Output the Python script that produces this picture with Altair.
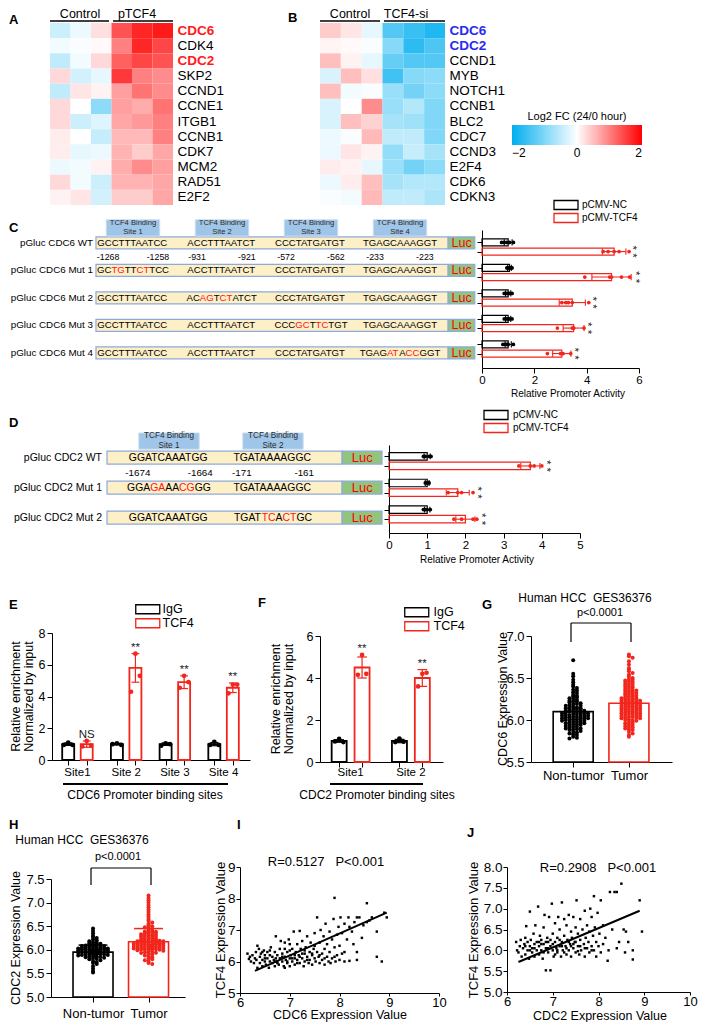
import altair as alt
import pandas as pd

FONT = "Liberation Sans"
W, H = 693, 1014
RED = "#f2261c"
MUT = "#ff1414"
HEAT_BLUE = "#00aeef"
HEAT_RED = "#ff0000"
YELLOW = "#fdefc6"
EDGE = "#8eaadb"
BIND = "#9fc5e8"
BIND_EDGE = "#c9ddf0"
LUC = "#93c47d"

# ======================= DATA =======================
genes_A = ["CDC6", "CDK4", "CDC2", "SKP2", "CCND1", "CCNE1", "ITGB1", "CCNB1", "CDK7", "MCM2", "RAD51", "E2F2"]
heat_A = [
    [-0.40, -0.15, 0.25, 1.35, 1.70, 1.80],
    [-0.10, -0.05, 0.05, 1.00, 1.70, 1.45],
    [-0.50, -0.10, 0.30, 1.25, 1.45, 1.35],
    [0.30, -0.35, -0.20, 1.55, 1.00, 0.90],
    [-0.50, 0.20, 0.10, 0.75, 1.10, 0.90],
    [0.30, 0.00, -0.90, 0.75, 0.65, 1.10],
    [0.30, -0.40, -0.25, 0.70, 0.80, 1.00],
    [0.15, 0.00, -0.45, 0.55, 0.55, 1.00],
    [0.15, -0.20, -0.15, 0.60, 0.40, 0.70],
    [-0.15, -0.10, 0.10, 0.65, 0.90, 0.75],
    [0.30, -0.10, -0.40, 0.60, 0.60, 0.70],
    [0.10, 0.20, -0.35, 0.40, 0.40, 0.70],
]
genes_B = ["CDC6", "CDC2", "CCND1", "MYB", "NOTCH1", "CCNB1", "BLC2", "CDC7", "CCND3", "E2F4", "CDK6", "CDKN3"]
heat_B = [
    [0.40, 0.20, -0.20, -1.35, -1.55, -1.75],
    [0.08, 0.05, -0.05, -0.95, -1.65, -1.40],
    [0.50, 0.10, -0.20, -1.20, -1.35, -1.35],
    [-0.30, 0.50, 0.25, -1.50, -0.95, -0.90],
    [0.50, -0.10, -0.05, -0.80, -1.10, -0.90],
    [-0.30, 0.00, 0.90, -0.80, -0.60, -1.00],
    [-0.30, 0.50, 0.35, -0.70, -0.75, -1.00],
    [-0.15, -0.05, 0.55, -0.50, -0.50, -1.00],
    [-0.15, 0.20, 0.10, -0.85, -0.45, -0.70],
    [0.15, 0.10, -0.20, -0.80, -1.10, -0.90],
    [-0.15, 0.15, 0.50, -0.70, -0.60, -0.60],
    [-0.05, -0.10, 0.55, -0.50, -0.50, -0.65],
]

# ---- C ----
labels_C = ["pGluc CDC6 WT", "pGluc CDC6 Mut 1", "pGluc CDC6 Mut 2", "pGluc CDC6 Mut 3", "pGluc CDC6 Mut 4"]
seqs_C = [  # lower case = mutated base (drawn red)
    ["GCCTTTAATCC", "ACCTTTAATCT", "CCCTATGATGT", "TGAGCAAAGGT"],
    ["GCtgTTctTCC", "ACCTTTAATCT", "CCCTATGATGT", "TGAGCAAAGGT"],
    ["GCCTTTAATCC", "ACagTctATCT", "CCCTATGATGT", "TGAGCAAAGGT"],
    ["GCCTTTAATCC", "ACCTTTAATCT", "CCCgcTtcTGT", "TGAGCAAAGGT"],
    ["GCCTTTAATCC", "ACCTTTAATCT", "CCCTATGATGT", "TGAGatAccGGT"],
]
sites_C = ["Site 1", "Site 2", "Site 3", "Site 4"]
coords_C = [("-1268", "-1258"), ("-931", "-921"), ("-572", "-562"), ("-233", "-223")]
legend_CD = ["pCMV-NC", "pCMV-TCF4"]
nc_mean_C = [1.0, 1.05, 1.0, 1.0, 1.0]
nc_sd_C = [0.15, 0.07, 0.10, 0.10, 0.12]
nc_pts_C = [[0.75, 0.85, 0.95, 1.05, 1.2], [0.95, 1.0, 1.05, 1.1, 1.15], [0.85, 0.95, 1.0, 1.05, 1.15],
            [0.85, 0.95, 1.0, 1.05, 1.15], [0.8, 0.9, 0.95, 1.0, 1.2]]
tc_mean_C = [5.05, 4.95, 3.45, 3.5, 3.05]
tc_sd_C = [0.45, 0.75, 0.5, 0.4, 0.35]
tc_pts_C = [[4.63, 4.82, 5.05, 5.24, 5.62], [3.93, 4.88, 4.95, 5.33, 5.64], [3.05, 3.2, 3.3, 3.45, 4.08],
            [2.88, 3.45, 3.5, 3.5, 3.9], [2.5, 3.0, 3.05, 3.1, 3.39]]

# ---- D ----
labels_D = ["pGluc CDC2 WT", "pGluc CDC2 Mut 1", "pGluc CDC2 Mut 2"]
seqs_D = [["GGATCAAATGG", "TGATAAAAGGC"], ["GGAgaAAcgGG", "TGATAAAAGGC"], ["GGATCAAATGG", "TGATtcActGC"]]
sites_D = ["Site 1", "Site 2"]
coords_D = [("-1674", "-1664"), ("-171", "-161")]
nc_mean_D = [1.0, 1.0, 1.0]
nc_sd_D = [0.08, 0.05, 0.07]
nc_pts_D = [[0.9, 0.95, 1.05, 1.1], [0.95, 1.0, 1.05], [0.9, 0.95, 1.0, 1.08]]
tc_mean_D = [3.7, 1.8, 2.0]
tc_sd_D = [0.25, 0.3, 0.25]
tc_pts_D = [[3.4, 3.7, 3.8, 4.0], [1.55, 1.8, 1.9, 2.2], [1.7, 1.9, 2.2, 2.3]]

# ---- E ----
legend_EF = ["IgG", "TCF4"]
sites_E = ["Site1", "Site 2", "Site 3", "Site 4"]
igg_mean_E = [1.0, 1.0, 1.0, 1.0]
igg_sd_E = [0.08, 0.05, 0.08, 0.1]
igg_pts_E = [[0.95, 1.1, 0.95], [1.0, 1.05, 0.95], [0.9, 1.05, 1.0], [0.95, 1.15, 0.95]]
tcf_mean_E = [1.0, 5.8, 4.9, 4.55]
tcf_sd_E = [0.2, 0.9, 0.4, 0.3]
tcf_pts_E = [[0.85, 1.2, 0.9], [4.3, 6.7, 5.3], [4.55, 5.3, 4.9], [4.2, 4.75, 4.75]]
sig_E = ["NS", "**", "**", "**"]

# ---- F ----
sites_F = ["Site1", "Site 2"]
igg_mean_F = [1.0, 1.0]
igg_sd_F = [0.06, 0.08]
igg_pts_F = [[0.98, 1.1, 0.95], [0.95, 1.12, 0.97]]
tcf_mean_F = [4.5, 4.0]
tcf_sd_F = [0.5, 0.4]
tcf_pts_F = [[4.15, 5.1, 4.2], [3.6, 4.2, 4.25]]
sig_F = ["**", "**"]

# ---- G / H ----
groups_GH = ["Non-tumor", "Tumor"]
G_nontumor = [6.71, 6.55, 6.52, 6.48, 6.45, 6.42, 6.40, 6.38, 6.36, 6.35, 6.33, 6.32, 6.30, 6.29, 6.28, 6.27, 6.26,
              6.25, 6.24, 6.23, 6.22, 6.22, 6.21, 6.20, 6.19, 6.19, 6.18, 6.17, 6.17, 6.16, 6.15, 6.15, 6.14, 6.14,
              6.13, 6.13, 6.12, 6.12, 6.11, 6.11, 6.10, 6.10, 6.10, 6.09, 6.09, 6.08, 6.08, 6.08, 6.07, 6.07, 6.06,
              6.06, 6.06, 6.05, 6.05, 6.05, 6.04, 6.04, 6.03, 6.03, 6.03, 6.02, 6.02, 6.02, 6.01, 6.01, 6.00, 6.00,
              6.00, 5.99, 5.99, 5.98, 5.98, 5.97, 5.97, 5.96, 5.96, 5.95, 5.95, 5.94, 5.94, 5.93, 5.92, 5.92, 5.91,
              5.90, 5.90, 5.89, 5.89, 5.88, 5.87, 5.86, 5.85, 5.84, 5.83, 5.82, 5.80, 5.79, 5.78]
G_tumor = [6.78, 6.76, 6.74, 6.70, 6.66, 6.62, 6.60, 6.58, 6.56, 6.54, 6.52, 6.50, 6.49, 6.48, 6.47, 6.46, 6.45, 6.44,
           6.43, 6.42, 6.41, 6.40, 6.39, 6.38, 6.37, 6.36, 6.35, 6.35, 6.34, 6.33, 6.32, 6.32, 6.31, 6.30, 6.30, 6.29,
           6.28, 6.28, 6.27, 6.26, 6.26, 6.25, 6.25, 6.24, 6.24, 6.23, 6.23, 6.22, 6.22, 6.21, 6.21, 6.20, 6.20, 6.19,
           6.19, 6.18, 6.18, 6.17, 6.17, 6.16, 6.16, 6.15, 6.15, 6.14, 6.14, 6.13, 6.13, 6.12, 6.12, 6.11, 6.11, 6.10,
           6.10, 6.09, 6.09, 6.08, 6.08, 6.07, 6.07, 6.06, 6.06, 6.05, 6.05, 6.04, 6.04, 6.03, 6.03, 6.02, 6.02, 6.01,
           6.00, 6.00, 5.99, 5.98, 5.97, 5.96, 5.95, 5.94, 5.93, 5.92, 5.91, 5.90, 5.89, 5.88, 5.86, 5.84, 5.82, 5.80]
G_mean = [6.10, 6.20]
H_nontumor = [6.45, 6.40, 6.35, 6.30, 6.27, 6.25, 6.22, 6.20, 6.18, 6.16, 6.15, 6.14, 6.13, 6.12, 6.11, 6.10, 6.10,
              6.09, 6.08, 6.08, 6.07, 6.06, 6.06, 6.05, 6.05, 6.04, 6.04, 6.03, 6.03, 6.02, 6.02, 6.01, 6.01, 6.00,
              6.00, 6.00, 5.99, 5.99, 5.98, 5.98, 5.98, 5.97, 5.97, 5.96, 5.96, 5.96, 5.95, 5.95, 5.95, 5.94, 5.94,
              5.93, 5.93, 5.92, 5.92, 5.91, 5.91, 5.90, 5.90, 5.89, 5.89, 5.88, 5.88, 5.87, 5.86, 5.86, 5.85, 5.84,
              5.83, 5.82, 5.81, 5.80, 5.78, 5.76, 5.74, 5.72, 5.70, 5.65, 5.60, 5.55, 5.52]
H_tumor = [7.15, 7.10, 7.05, 7.00, 6.95, 6.90, 6.85, 6.80, 6.75, 6.70, 6.65, 6.62, 6.58, 6.55, 6.52, 6.50, 6.48, 6.46,
           6.44, 6.42, 6.40, 6.39, 6.38, 6.37, 6.36, 6.35, 6.34, 6.33, 6.32, 6.31, 6.30, 6.29, 6.28, 6.27, 6.26, 6.25,
           6.24, 6.23, 6.22, 6.22, 6.21, 6.20, 6.20, 6.19, 6.18, 6.18, 6.17, 6.16, 6.16, 6.15, 6.15, 6.14, 6.14, 6.13,
           6.13, 6.12, 6.12, 6.11, 6.11, 6.10, 6.10, 6.09, 6.09, 6.08, 6.08, 6.07, 6.07, 6.06, 6.06, 6.05, 6.05, 6.04,
           6.04, 6.03, 6.03, 6.02, 6.02, 6.01, 6.01, 6.00, 6.00, 5.99, 5.98, 5.97, 5.96, 5.95, 5.94, 5.93, 5.92, 5.90,
           5.88, 5.86, 5.84, 5.82, 5.80, 5.78, 5.75, 5.72, 5.70]
H_mean = [5.95, 6.17]
H_sd = [0.15, 0.28]

# ---- I / J ----
scatter_I = [
    (6.15, 6.25), (6.18, 6.08), (6.2, 6.15), (6.22, 6.0), (6.25, 6.2), (6.28, 5.95), (6.3, 6.1), (6.32, 6.3),
    (6.33, 6.05), (6.35, 5.8), (6.35, 6.5), (6.38, 6.4), (6.4, 5.95), (6.4, 6.15), (6.42, 6.25), (6.45, 6.05),
    (6.45, 5.85), (6.48, 6.35), (6.5, 6.0), (6.5, 6.2), (6.52, 5.9), (6.55, 6.1), (6.55, 6.3), (6.58, 5.8),
    (6.6, 6.0), (6.6, 6.2), (6.62, 6.45), (6.65, 5.95), (6.65, 6.15), (6.68, 6.05), (6.7, 5.85), (6.7, 6.3),
    (6.72, 6.1), (6.72, 6.8), (6.75, 6.0), (6.75, 6.2), (6.78, 5.9), (6.8, 6.1), (6.8, 6.4), (6.82, 6.65),
    (6.85, 6.0), (6.85, 6.25), (6.88, 5.85), (6.9, 6.15), (6.9, 6.6), (6.92, 6.05), (6.95, 6.3), (6.95, 5.95),
    (6.98, 6.7), (7.0, 6.1), (7.0, 5.85), (7.02, 6.2), (7.05, 6.0), (7.05, 6.4), (7.08, 6.95), (7.1, 6.1),
    (7.1, 5.9), (7.12, 6.3), (7.15, 6.05), (7.15, 6.55), (7.18, 6.2), (7.2, 5.95), (7.2, 6.97), (7.22, 6.4),
    (7.25, 6.1), (7.25, 6.65), (7.28, 5.85), (7.3, 6.25), (7.3, 6.0), (7.32, 6.45), (7.35, 6.15), (7.35, 6.8),
    (7.38, 5.95), (7.4, 6.3), (7.4, 6.05), (7.42, 6.6), (7.45, 6.2), (7.45, 5.9), (7.48, 6.4), (7.5, 6.1),
    (7.5, 6.9), (7.52, 6.0), (7.55, 6.3), (7.55, 7.4), (7.58, 6.15), (7.6, 6.6), (7.6, 5.95), (7.62, 7.0),
    (7.65, 6.25), (7.65, 6.05), (7.68, 6.8), (7.7, 6.4), (7.7, 5.9), (7.72, 7.2), (7.75, 6.15), (7.75, 6.55),
    (7.78, 6.0), (7.8, 6.95), (7.8, 6.3), (7.82, 5.95), (7.85, 6.7), (7.85, 6.1), (7.88, 7.35), (7.9, 8.02),
    (7.9, 6.45), (7.92, 6.0), (7.95, 6.85), (7.95, 6.2), (7.98, 7.1), (8.0, 6.5), (8.02, 7.4), (8.05, 6.9),
    (8.05, 6.25), (8.1, 7.2), (8.1, 6.0), (8.15, 6.7), (8.18, 7.4), (8.2, 7.1), (8.2, 6.02), (8.25, 6.95),
    (8.28, 6.55), (8.3, 7.25), (8.35, 7.4), (8.35, 6.3), (8.35, 6.05), (8.4, 7.4), (8.45, 6.75), (8.48, 7.15),
    (8.55, 7.85), (8.55, 7.25), (8.6, 7.3), (8.65, 7.4), (8.75, 6.95), (8.75, 6.15), (8.85, 6.0), (8.9, 7.55),
    (8.95, 7.4), (6.6, 6.35), (6.7, 6.0), (6.9, 5.8), (7.0, 6.35), (7.1, 6.2), (7.2, 6.15), (7.3, 6.35),
    (7.45, 6.25), (6.85, 6.15), (6.95, 6.0), (7.05, 6.1), (7.15, 5.95), (7.25, 6.25), (7.35, 6.05), (6.5, 6.1),
    (6.45, 6.3), (6.75, 5.95), (7.6, 6.2), (7.7, 6.1), (7.9, 6.15), (8.0, 6.05), (8.1, 6.3), (7.5, 6.5),
    (7.0, 6.55), (6.9, 6.4),
]
line_I = [(6.3, 5.7), (8.95, 7.55)]
scatter_J = [
    (6.2, 6.2), (6.22, 6.0), (6.25, 5.95), (6.28, 6.1), (6.3, 6.25), (6.32, 5.85), (6.35, 6.05), (6.38, 6.15),
    (6.4, 5.9), (6.4, 6.3), (6.42, 6.58), (6.45, 6.0), (6.45, 6.2), (6.48, 5.8), (6.5, 6.1), (6.5, 6.93),
    (6.52, 6.25), (6.55, 5.95), (6.55, 6.05), (6.58, 6.4), (6.6, 6.15), (6.6, 5.85), (6.62, 6.6), (6.65, 6.0),
    (6.65, 6.2), (6.68, 7.05), (6.7, 5.9), (6.7, 6.1), (6.72, 6.35), (6.75, 6.0), (6.75, 6.25), (6.78, 5.8),
    (6.8, 6.15), (6.8, 6.55), (6.82, 6.85), (6.85, 6.05), (6.85, 5.52), (6.88, 6.3), (6.9, 5.95), (6.9, 6.2),
    (6.92, 6.8), (6.95, 5.52), (6.95, 6.1), (6.98, 7.12), (7.0, 6.0), (7.0, 6.4), (7.02, 5.85), (7.05, 6.2),
    (7.05, 6.65), (7.08, 6.05), (7.1, 5.95), (7.1, 6.3), (7.12, 6.8), (7.15, 6.1), (7.15, 6.5), (7.18, 5.85),
    (7.2, 6.2), (7.2, 7.15), (7.22, 6.0), (7.25, 6.35), (7.25, 6.75), (7.28, 6.1), (7.3, 5.9), (7.3, 6.6),
    (7.32, 6.25), (7.35, 6.0), (7.35, 6.85), (7.38, 6.15), (7.4, 6.45), (7.4, 5.85), (7.42, 6.3), (7.45, 6.05),
    (7.45, 6.8), (7.48, 6.2), (7.5, 6.55), (7.5, 5.95), (7.52, 7.2), (7.55, 6.1), (7.55, 6.4), (7.58, 5.9),
    (7.6, 6.25), (7.6, 6.75), (7.62, 6.0), (7.65, 6.5), (7.68, 6.15), (7.7, 5.85), (7.7, 6.95), (7.72, 6.3),
    (7.75, 6.05), (7.75, 6.6), (7.78, 6.2), (7.8, 5.95), (7.8, 6.45), (7.82, 7.0), (7.85, 6.1), (7.85, 6.8),
    (7.88, 6.35), (7.9, 7.3), (7.9, 6.0), (7.92, 6.55), (7.95, 6.2), (7.95, 5.85), (7.98, 6.9), (8.0, 6.1),
    (8.02, 6.4), (8.05, 7.2), (8.05, 5.95), (8.1, 6.6), (8.1, 6.15), (8.15, 6.3), (8.2, 5.75), (8.22, 6.0),
    (8.25, 7.4), (8.3, 6.5), (8.35, 7.4), (8.4, 7.4), (8.4, 6.05), (8.45, 6.2), (8.5, 7.6), (8.55, 6.5),
    (8.58, 5.95), (8.6, 6.45), (8.65, 6.2), (8.75, 6.0), (8.75, 5.78), (8.9, 7.2), (8.95, 6.45), (6.6, 6.05),
    (6.7, 6.2), (6.8, 5.95), (6.9, 6.05), (7.0, 6.15), (7.1, 6.0), (7.2, 6.1), (7.3, 6.05), (7.4, 6.1),
    (7.5, 6.2), (6.95, 6.25), (7.05, 5.9), (7.15, 6.25), (7.25, 5.95), (7.35, 6.2), (6.75, 6.15), (6.85, 6.2),
    (7.6, 6.1), (7.7, 6.05), (7.85, 6.0), (6.5, 6.0), (6.4, 6.1), (7.45, 6.15), (7.55, 5.98),
]
line_J = [(6.25, 5.72), (8.9, 6.95)]


# ======================= HELPERS =======================
def PX(v):
    return v - 8


def PY(v):
    return v - 8


def qs(d0, d1, r0, r1):
    return alt.Scale(domain=[d0, d1], range=[r0, r1], nice=False, zero=False)


def ax(orient, pos, **kw):
    d = dict(orient=orient, grid=False, domainColor="black", tickColor="black", labelColor="black",
             labelFont=FONT, labelFontSize=12, tickSize=5, labelPadding=2, title=None,
             labelFlush=False, labelOverlap=False, domainWidth=1, tickWidth=1)
    if orient == "bottom":
        d["offset"] = PY(pos) - H
    else:
        d["offset"] = -PX(pos)
    d.update(kw)
    return alt.Axis(**d)


def one():
    return pd.DataFrame({"t": [""]})


def note(text, x, y, size=12, weight="normal", align="center", baseline="middle", color="black",
         angle=None, lh=None):
    kw = dict(font=FONT, fontSize=size, fontWeight=weight, align=align, baseline=baseline, color=color)
    if angle is not None:
        kw["angle"] = angle
    if "\n" in text:
        kw["lineBreak"] = "\n"
        if lh:
            kw["lineHeight"] = lh
    return alt.Chart(pd.DataFrame({"t": [text]})).mark_text(**kw).encode(
        x=alt.value(PX(x)), y=alt.value(PY(y)), text="t:N")


def seg(x0, y0, x1, y1, w=1.0, color="black"):
    return alt.Chart(one()).mark_rule(strokeWidth=w, color=color).encode(
        x=alt.value(PX(x0)), x2=alt.value(PX(x1)), y=alt.value(PY(y0)), y2=alt.value(PY(y1)))


def box_legend(x, y, fs, lab_off, row_pad, names, shown):
    expr = "datum.label == '%s' ? '%s' : '%s'" % (names[0], shown[0], shown[1])
    return alt.Legend(orient="none", legendX=PX(x), legendY=PY(y), title=None,
                      symbolType="M-2.667,-1H2.667V1H-2.667Z", symbolSize=81, symbolFillColor="white",
                      symbolStrokeWidth=1.3, labelFont=FONT, labelFontSize=fs, labelOffset=lab_off,
                      rowPadding=row_pad, padding=0, labelColor="black", labelExpr=expr)


def two_tone(names):
    return alt.condition("datum.g == '%s'" % names[1], alt.value(RED), alt.value("black"))


CW = {"A": 0.667, "C": 0.722, "G": 0.778, "T": 0.611}


def segments(seq, center, fs, ppu):
    out, pos, i = [], 0.0, 0
    while i < len(seq):
        j = i
        while j < len(seq) and seq[j].islower() == seq[i].islower():
            j += 1
        part = seq[i:j]
        out.append({"t": part.upper(), "mut": seq[i].islower(), "off": pos})
        pos += sum(CW[c.upper()] for c in part) * fs
        i = j
    for o in out:
        o["x"] = center + (o["off"] - pos / 2) / ppu
    return out


def swarm_offsets(vals, bin_w, step, maxoff):
    nmax = int(maxoff / step + 1e-9)
    pattern = [0.0]
    for i in range(1, nmax + 1):
        pattern += [i * step, -i * step]
    for i in range(1, nmax + 1):
        pattern += [(i - 0.5) * step, -(i - 0.5) * step]
    counts, out = {}, []
    for v in vals:
        b = round(v / bin_w)
        k = counts.get(b, 0)
        counts[b] = k + 1
        out.append(pattern[k % len(pattern)])
    return out


# ======================= PANELS =======================
def heatmap(genes, vals, left, right, highlight, hl_color, legend):
    recs = []
    for gi, g in enumerate(genes):
        for ci, v in enumerate(vals[gi]):
            recs.append({"gene": g, "c0": ci, "c1": ci + 1, "v": v})
    test = " || ".join("datum.value == '%s'" % h for h in highlight)
    yax = alt.Axis(orient="right", offset=PX(right) - W, domain=False, ticks=False, grid=False,
                   labelPadding=4, labelFont=FONT, labelFontSize=13.5, title=None,
                   labelColor={"condition": {"test": test, "value": hl_color}, "value": "black"},
                   labelFontWeight={"condition": {"test": test, "value": "bold"}, "value": "normal"})
    return alt.Chart(pd.DataFrame(recs)).mark_rect().encode(
        x=alt.X("c0:Q", scale=qs(0, 6, PX(left), PX(right)), axis=None),
        x2="c1:Q",
        y=alt.Y("gene:N", sort=None,
                scale=alt.Scale(domain=genes, range=[PY(23), PY(205)], paddingInner=0, paddingOuter=0),
                axis=yax),
        color=alt.Color("v:Q", scale=alt.Scale(domain=[-2, 0, 2], range=[HEAT_BLUE, "#ffffff", HEAT_RED],
                                               interpolate="rgb"), legend=legend),
    )


def diagram(labels, seqs, sites, coords, xs, ys, L):
    n, ns = len(labels), len(sites)
    X = lambda f: alt.X(f, scale=xs, axis=None)
    Y = lambda f: alt.Y(f, scale=ys, axis=None)
    bx = pd.DataFrame([{"x0": L["box"][0], "x1": L["box"][1], "y0": r - L["bh"], "y1": r + L["bh"]}
                       for r in range(n)])
    lc = pd.DataFrame([{"x0": L["luc"][0], "x1": L["luc"][1], "y0": r - L["bh"], "y1": r + L["bh"],
                        "xm": (L["luc"][0] + L["luc"][1]) / 2, "y": r} for r in range(n)])
    bd = pd.DataFrame([{"x0": s + 1 - L["bw"], "x1": s + 1 + L["bw"], "y0": L["by"][0], "y1": L["by"][1],
                        "xm": s + 1, "ym": (L["by"][0] + L["by"][1]) / 2, "t": "TCF4 Binding\n" + sites[s]}
                       for s in range(ns)])
    lb = pd.DataFrame([{"x": L["lab_x"], "y": r, "t": labels[r]} for r in range(n)])
    cd = []
    for s, (a, b) in enumerate(coords):
        cd.append({"x": s + 1 - L["cd"], "y": L["cy"], "t": a})
        cd.append({"x": s + 1 + L["cd"], "y": L["cy"], "t": b})
    sq = []
    for r in range(n):
        for s in range(ns):
            for sgm in segments(seqs[r][s], s + 1, L["fs"], L["ppu"]):
                sgm["y"] = r
                sq.append(sgm)
    lh = L["bind_fs"] + 1.5
    return alt.layer(
        alt.Chart(bx).mark_rect(fill=YELLOW, stroke=EDGE, strokeWidth=1.2).encode(
            x=X("x0:Q"), x2="x1:Q", y=Y("y0:Q"), y2="y1:Q"),
        alt.Chart(lc).mark_rect(fill=LUC, stroke=EDGE, strokeWidth=1.2).encode(
            x=X("x0:Q"), x2="x1:Q", y=Y("y0:Q"), y2="y1:Q"),
        alt.Chart(lc).mark_text(font=FONT, fontSize=L["luc_fs"], color="#ff0000").encode(
            x=X("xm:Q"), y=Y("y:Q"), text=alt.value("Luc")),
        alt.Chart(bd).mark_rect(fill=BIND, stroke=BIND_EDGE, strokeWidth=1).encode(
            x=X("x0:Q"), x2="x1:Q", y=Y("y0:Q"), y2="y1:Q"),
        alt.Chart(bd).mark_text(font=FONT, fontSize=L["bind_fs"], color="#2a2a2a", lineBreak="\n",
                                lineHeight=lh, dy=-lh / 2).encode(
            x=X("xm:Q"), y=Y("ym:Q"), text="t:N"),
        alt.Chart(lb).mark_text(font=FONT, fontSize=L["lab_fs"], align="right", color="black").encode(
            x=X("x:Q"), y=Y("y:Q"), text="t:N"),
        alt.Chart(pd.DataFrame(cd)).mark_text(font=FONT, fontSize=L["cd_fs"], color="black").encode(
            x=X("x:Q"), y=Y("y:Q"), text="t:N"),
        alt.Chart(pd.DataFrame(sq)).mark_text(font=FONT, fontSize=L["fs"], align="left").encode(
            x=X("x:Q"), y=Y("y:Q"), text="t:N",
            color=alt.condition("datum.mut", alt.value(MUT), alt.value("black"))),
    )


def hbars(names, groups, xs, ys, xaxis, y_axis_x, off, thick, legend, cap, star_gap):
    nrow = len(groups[0][0])
    B, P, E, Cp, S, ticks = [], [], [], [], [], []
    for r in range(nrow):
        for gi, (means, sds, pts) in enumerate(groups):
            yp = r + (off if gi else -off)
            g = names[gi]
            ticks.append(yp)
            m, s = means[r], sds[r]
            B.append({"y": yp, "v": m, "z": 0.0, "g": g})
            P += [{"y": yp, "v": p, "g": g} for p in pts[r]]
            E.append({"y": yp, "lo": m - s, "hi": m + s, "g": g})
            Cp += [{"x": e, "y0": yp - cap, "y1": yp + cap, "g": g} for e in (m - s, m + s)]
        m, s, pts = groups[1][0][r], groups[1][1][r], groups[1][2][r]
        S.append({"x": max(m + s, max(pts)) + star_gap, "y": r + off, "t": "* *"})
    sc = alt.Scale(domain=names, range=["black", RED])
    yaxis = ax("left", y_axis_x, values=ticks, labels=False, tickSize=5)
    XA = lambda f: alt.X(f, scale=xs, axis=xaxis)
    YA = lambda f: alt.Y(f, scale=ys, axis=yaxis)
    return alt.layer(
        alt.Chart(pd.DataFrame(B)).mark_bar(orient="horizontal", size=thick, filled=False, strokeWidth=1.2).encode(
            x=XA("v:Q"), x2="z:Q", y=YA("y:Q"),
            stroke=alt.Stroke("g:N", scale=sc, legend=legend)),
        alt.Chart(pd.DataFrame(E)).mark_rule(strokeWidth=1.1).encode(
            x=XA("lo:Q"), x2="hi:Q", y=YA("y:Q"),
            stroke=alt.Stroke("g:N", scale=sc, legend=None)),
        alt.Chart(pd.DataFrame(Cp)).mark_rule(strokeWidth=1.1).encode(
            x=XA("x:Q"), y=YA("y0:Q"), y2="y1:Q",
            stroke=alt.Stroke("g:N", scale=sc, legend=None)),
        alt.Chart(pd.DataFrame(P)).mark_circle(size=14, opacity=1).encode(
            x=XA("v:Q"), y=YA("y:Q"), fill=two_tone(names)),
        alt.Chart(pd.DataFrame(S)).mark_text(font=FONT, fontSize=11.5, angle=90, align="center",
                                             baseline="middle", color="#222222").encode(
            x=XA("x:Q"), y=YA("y:Q"), text="t:N"),
    )


def vbars(names, groups, sig, site_names, xs, ys, x_axis_y, yaxis, off, width, spread, legend, capw,
          psize, label_y, label_fs):
    ns = len(sig)
    B, P, E, Cp, S, ticks = [], [], [], [], [], []
    for i in range(ns):
        for gi, (means, sds, pts) in enumerate(groups):
            xp = i + 1 + (off if gi else -off)
            g = names[gi]
            ticks.append(xp)
            m, s = means[i], sds[i]
            B.append({"x": xp, "v": m, "z": 0.0, "g": g})
            k0 = (len(pts[i]) - 1) / 2
            P += [{"x": xp + (k - k0) * spread, "v": p, "g": g} for k, p in enumerate(pts[i])]
            E.append({"x": xp, "lo": m - s, "hi": m + s, "g": g})
            Cp += [{"x0": xp - capw, "x1": xp + capw, "y": e, "g": g} for e in (m - s, m + s)]
        m, s, pts = groups[1][0][i], groups[1][1][i], groups[1][2][i]
        S.append({"x": i + 1 + off, "y": max(m + s, max(pts)), "t": sig[i]})
    sc = alt.Scale(domain=names, range=["black", RED])
    xaxis = ax("bottom", x_axis_y, values=ticks, labels=False, tickSize=5)
    XA = lambda f: alt.X(f, scale=xs, axis=xaxis)
    YA = lambda f: alt.Y(f, scale=ys, axis=yaxis)
    lab = pd.DataFrame({"x": [i + 1 for i in range(ns)], "t": site_names})
    return alt.layer(
        alt.Chart(pd.DataFrame(B)).mark_bar(orient="vertical", size=width, filled=False, strokeWidth=1.8).encode(
            x=XA("x:Q"), y=YA("v:Q"), y2="z:Q",
            stroke=alt.Stroke("g:N", scale=sc, legend=legend)),
        alt.Chart(pd.DataFrame(E)).mark_rule(strokeWidth=1.2).encode(
            x=XA("x:Q"), y=YA("lo:Q"), y2="hi:Q",
            stroke=alt.Stroke("g:N", scale=sc, legend=None)),
        alt.Chart(pd.DataFrame(Cp)).mark_rule(strokeWidth=1.2).encode(
            x=XA("x0:Q"), x2="x1:Q", y=YA("y:Q"),
            stroke=alt.Stroke("g:N", scale=sc, legend=None)),
        alt.Chart(pd.DataFrame(P)).mark_circle(size=psize, opacity=1).encode(
            x=XA("x:Q"), y=YA("v:Q"), fill=two_tone(names)),
        alt.Chart(pd.DataFrame(S)).mark_text(font=FONT, fontSize=11.5, baseline="bottom", dy=-1,
                                             color="#222222").encode(
            x=XA("x:Q"), y=YA("y:Q"), text="t:N"),
        alt.Chart(lab).mark_text(font=FONT, fontSize=label_fs, color="black").encode(
            x=XA("x:Q"), y=alt.value(PY(label_y)), text="t:N"),
    )


def dots(names, vals, means, sds, xs, ys, xaxis, yaxis, bar_w, base, bin_w, step, maxoff, psize, err, capw):
    sc = alt.Scale(domain=names, range=["black", RED])
    XA = lambda f: alt.X(f, scale=xs, axis=xaxis)
    YA = lambda f: alt.Y(f, scale=ys, axis=yaxis)
    B = pd.DataFrame([{"x": i + 1, "v": means[i], "b": base, "g": names[i]} for i in range(2)])
    P = []
    for i in range(2):
        offs = swarm_offsets(vals[i], bin_w, step, maxoff)
        P += [{"x": i + 1 + o, "v": v, "g": names[i]} for v, o in zip(vals[i], offs)]
    layers = [
        alt.Chart(B).mark_bar(orient="vertical", size=bar_w, filled=False, strokeWidth=1.6).encode(
            x=XA("x:Q"), y=YA("v:Q"), y2="b:Q",
            stroke=alt.Stroke("g:N", scale=sc, legend=None)),
        alt.Chart(pd.DataFrame(P)).mark_circle(size=psize, opacity=1).encode(
            x=XA("x:Q"), y=YA("v:Q"), fill=two_tone(names)),
    ]
    if err:
        E = pd.DataFrame([{"x": i + 1, "lo": means[i], "hi": means[i] + sds[i], "g": names[i]} for i in range(2)])
        Cp = pd.DataFrame([{"x0": i + 1 - capw, "x1": i + 1 + capw, "y": means[i] + sds[i], "g": names[i]}
                           for i in range(2)])
        layers += [
            alt.Chart(E).mark_rule(strokeWidth=1.5).encode(
                x=XA("x:Q"), y=YA("lo:Q"), y2="hi:Q",
                stroke=alt.Stroke("g:N", scale=sc, legend=None)),
            alt.Chart(Cp).mark_rule(strokeWidth=1.5).encode(
                x=XA("x0:Q"), x2="x1:Q", y=YA("y:Q"),
                stroke=alt.Stroke("g:N", scale=sc, legend=None)),
        ]
    return alt.layer(*layers)


def scatter(pairs, line, xs, ys, xaxis, yaxis):
    pts = pd.DataFrame({"x": [p[0] for p in pairs], "y": [p[1] for p in pairs]})
    ln = pd.DataFrame({"x": [p[0] for p in line], "y": [p[1] for p in line]})
    return alt.layer(
        alt.Chart(pts).mark_square(size=6, color="black", opacity=1).encode(
            x=alt.X("x:Q", scale=xs, axis=xaxis), y=alt.Y("y:Q", scale=ys, axis=yaxis)),
        alt.Chart(ln).mark_line(color="black", strokeWidth=2).encode(
            x=alt.X("x:Q", scale=xs, axis=xaxis), y=alt.Y("y:Q", scale=ys, axis=yaxis)),
    )


# ======================= BUILD =======================
heat_legend = alt.Legend(orient="none", legendX=PX(512), legendY=PY(111), direction="horizontal",
                         gradientLength=130, gradientThickness=20, title="Log2 FC (24/0 hour)",
                         titleFont=FONT, titleFontSize=11, titleFontWeight="normal", titleAnchor="middle",
                         titlePadding=3, values=[-2, 0, 2], labelFont=FONT, labelFontSize=12, labelOffset=3,
                         padding=0, gradientStrokeWidth=0, titleColor="black", labelColor="black",
                         labelOverlap=False)

pA = heatmap(genes_A, heat_A, 50, 173, ["CDC6", "CDC2"], "#ff1a1a", heat_legend)
pB = heatmap(genes_B, heat_B, 320, 445, ["CDC6", "CDC2"], "#2a2af0", None)

# C
keys_C = ["C-NC", "C-TCF4"]
C_xd = qs(0, 5, PX(44), PX(489))
C_y = qs(-0.47, 4.55, PY(230), PY(368))
L_C = dict(ppu=89, fs=9.6, box=(0.584, 4.539), luc=(4.545, 4.84), bh=0.218, bw=0.30, by=(-0.84, -0.25),
           lab_x=0.55, cd=0.28, cy=0.51, lab_fs=9.8, cd_fs=8.8, bind_fs=7.6, luc_fs=12.5)
pC_diag = diagram(labels_C, seqs_C, sites_C, coords_C, C_xd, C_y, L_C)
pC_bars = hbars(keys_C, [(nc_mean_C, nc_sd_C, nc_pts_C), (tc_mean_C, tc_sd_C, tc_pts_C)],
                qs(0, 6, PX(482), PX(639)), C_y,
                ax("bottom", 368, values=[0, 2, 4, 6], labelFontSize=11.5, labelPadding=1),
                482, 0.18, 7, box_legend(560.5, 199.5, 10, 10.5, -3, keys_C, legend_CD), 0.12, 0.13)

# D
keys_D = ["D-NC", "D-TCF4"]
D_xd = qs(0, 3.2, PX(65), PX(397.8))
D_y = qs(-0.42, 2.52, PY(445), PY(533.2))
L_D = dict(ppu=104, fs=10.4, box=(0.404, 2.663), luc=(2.667, 3.048), bh=0.217, bw=0.29, by=(-0.82, -0.28),
           lab_x=0.356, cd=0.30, cy=0.51, lab_fs=10.5, cd_fs=9.8, bind_fs=8.2, luc_fs=13)
pD_diag = diagram(labels_D, seqs_D, sites_D, coords_D, D_xd, D_y, L_D)
pD_bars = hbars(keys_D, [(nc_mean_D, nc_sd_D, nc_pts_D), (tc_mean_D, tc_sd_D, tc_pts_D)],
                qs(0, 5, PX(389), PX(580)), D_y,
                ax("bottom", 533, values=[0, 1, 2, 3, 4, 5], labelFontSize=11.5, labelPadding=1),
                389, 0.18, 7.5, box_legend(490.5, 409.5, 10, 11.5, -3, keys_D, legend_CD), 0.11, 0.1)

# E
keys_E = ["E-IgG", "E-TCF4"]
pE = vbars(keys_E, [(igg_mean_E, igg_sd_E, igg_pts_E), (tcf_mean_E, tcf_sd_E, tcf_pts_E)], sig_E, sites_E,
           qs(0.58, 4.44, PX(52), PX(250)), qs(0, 8, PY(760), PY(633)), 760,
           ax("left", 52, values=[0, 2, 4, 6, 8], labelFontSize=12.5),
           0.19, 12, 0.09, box_legend(141.5, 603, 12.5, 8.5, -2.5, keys_E, legend_EF), 0.08, 22, 773, 11.5)
# F
keys_F = ["F-IgG", "F-TCF4"]
pF = vbars(keys_F, [(igg_mean_F, igg_sd_F, igg_pts_F), (tcf_mean_F, tcf_sd_F, tcf_pts_F)], sig_F, sites_F,
           qs(0.575, 2.45, PX(320), PX(443)), qs(0, 6, PY(762), PY(636)), 762,
           ax("left", 320, values=[0, 2, 4, 6], labelFontSize=12.5),
           0.19, 15, 0.07, box_legend(410.5, 606, 12.5, 10.5, -2.5, keys_F, legend_EF), 0.08, 22, 773, 11.5)

# G
pG = dots(groups_GH, [G_nontumor, G_tumor], G_mean, [0.15, 0.2],
          qs(0.333, 2.683, PX(531), PX(672)), qs(5.5, 7.0, PY(762), PY(636)),
          ax("bottom", 762, values=[1, 2], labelExpr="datum.value == 1 ? 'Non-tumor' : 'Tumor'",
             labelFontSize=13, labelPadding=2),
          ax("left", 531, values=[5.5, 6.0, 6.5, 7.0], format=".1f", labelFontSize=13),
          40, 5.5, 0.03, 0.0667, 0.3, 16, False, 0.26)
# H
pH = dots(["H-Non-tumor", "H-Tumor"], [H_nontumor, H_tumor], H_mean, H_sd,
          qs(0.333, 2.567, PX(51), PX(185)), qs(5.0, 7.5, PY(997), PY(879)),
          ax("bottom", 997, values=[1, 2], labelExpr="datum.value == 1 ? 'Non-tumor' : 'Tumor'",
             labelFontSize=13, labelPadding=5),
          ax("left", 51, values=[5.0, 5.5, 6.0, 6.5, 7.0, 7.5], format=".1f", labelFontSize=13),
          40, 5.0, 0.05, 0.0667, 0.3, 16, True, 0.26)
# I
pI = scatter(scatter_I, line_I, qs(6, 10, PX(240), PX(439)), qs(5, 9, PY(993), PY(867)),
             ax("bottom", 993, values=[6, 7, 8, 9, 10], labelFontSize=13, tickSize=3, labelPadding=0),
             ax("left", 240, values=[5, 6, 7, 8, 9], labelFontSize=13.5, tickSize=4, labelPadding=1))
# J
pJ = scatter(scatter_J, line_J, qs(6, 10, PX(507), PX(690)), qs(5.0, 8.0, PY(992), PY(867)),
             ax("bottom", 992, values=[6, 7, 8, 9, 10], labelFontSize=13, tickSize=3, labelPadding=0),
             ax("left", 507, values=[5.0, 5.5, 6.0, 6.5, 7.0, 7.5, 8.0], format=".1f", labelFontSize=13.5,
                tickSize=4, labelPadding=1))

notes = [
    note("A", 9, 20, 13, "bold", "left"),
    note("B", 288, 18, 13, "bold", "left"),
    note("C", 9, 228, 13, "bold", "left"),
    note("D", 9, 423, 13, "bold", "left"),
    note("E", 9, 605, 13, "bold", "left"),
    note("F", 258, 603, 13, "bold", "left"),
    note("G", 482, 605, 13, "bold", "left"),
    note("H", 9, 825, 13, "bold", "left"),
    note("I", 237, 825, 13, "bold", "left"),
    note("J", 467, 833, 13, "bold", "left"),
    note("Control", 80, 14, 12.5), note("pTCF4", 137, 14, 12.5),
    note("Control", 350, 14, 12.5), note("TCF4-si", 406, 14, 12.5),
    seg(50, 21, 109, 21, 1.5), seg(113, 21, 173, 21, 1.5),
    seg(320, 21, 380, 21, 1.5), seg(384, 21, 445, 21, 1.5),
    note("Relative Promoter Activity", 568, 393.5, 10),
    note("Relative Promoter Activity", 477, 560, 10),
    note("Relative enrichment\nNormalized by input", 16, 696.5, 12.5, angle=270, lh=13),
    seg(63, 784, 228, 784, 2), note("CDC6 Promoter binding sites", 145, 795, 12),
    note("Relative enrichment\nNormalized by input", 276, 699, 12.5, angle=270, lh=13),
    seg(330, 784, 423, 784, 2), note("CDC2 Promoter binding sites", 377, 795, 12),
    note("Human HCC\u00a0\u00a0GES36376", 585, 598, 12), note("p<0.0001", 600, 613, 11),
    seg(571, 623, 631, 623, 1.2), seg(571, 623, 571, 642, 1.2), seg(631, 623, 631, 642, 1.2),
    note("CDC6 Expression Value", 503, 699, 12.5, angle=270),
    note("Human HCC\u00a0\u00a0GES36376", 82, 840, 12), note("p<0.0001", 118, 857, 11),
    seg(91, 868, 151, 868, 1.2), seg(91, 868, 91, 885, 1.2), seg(151, 868, 151, 885, 1.2),
    note("CDC2 Expression Value", 16, 938, 12.5, angle=270),
    note("R=0.5127\u00a0\u00a0\u00a0P<0.001", 326, 862, 13),
    note("CDC6 Expression Value", 340, 1015, 12.5),
    note("TCF4 Expression Value", 221, 930, 13, angle=270),
    note("R=0.2908\u00a0\u00a0\u00a0P<0.001", 598, 868, 13),
    note("CDC2 Expression Value", 600, 1015.5, 12.5),
    note("TCF4 Expression Value", 474, 930, 13, angle=270),
]

chart = alt.layer(pA, pB, pC_diag, pC_bars, pD_diag, pD_bars, pE, pF, pG, pH, pI, pJ, *notes).resolve_scale(
    x="independent", y="independent", color="independent", stroke="independent", fill="independent"
).resolve_axis(x="independent", y="independent").resolve_legend(
    color="independent", stroke="independent", fill="independent"
).properties(width=W, height=H, autosize=alt.AutoSizeParams(type="none"), padding=0
             ).configure(font=FONT).configure_view(stroke=None)

chart.save("out.html", embed_options={"renderer": "svg", "actions": False})
